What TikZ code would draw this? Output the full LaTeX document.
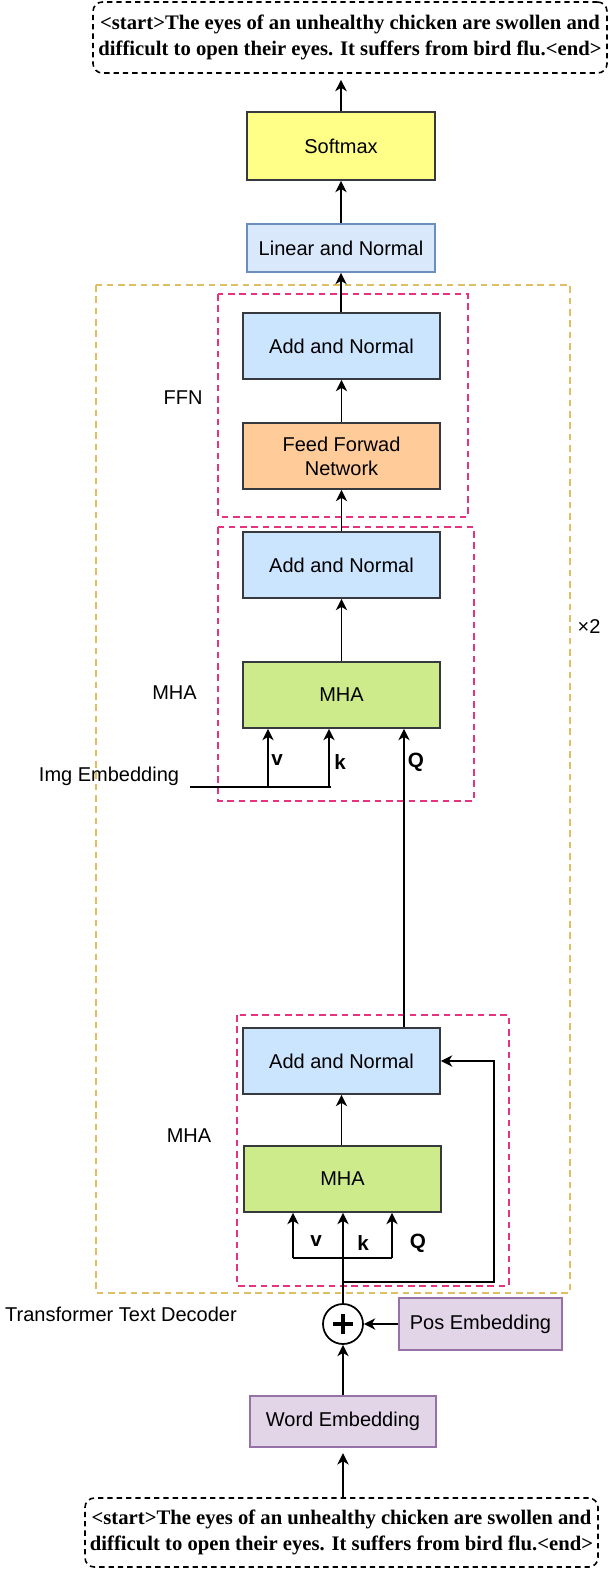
\documentclass[tikz,border=0pt]{standalone}
\usepackage{fontspec}
\setmainfont{Liberation Sans}
\newfontfamily\tnr{Liberation Serif}
\usetikzlibrary{arrows.meta}
\definecolor{sgray}{HTML}{36393D}
\definecolor{yfill}{HTML}{FFFF88}
\definecolor{lnfill}{HTML}{DAE8FC}
\definecolor{lnstroke}{HTML}{6C8EBF}
\definecolor{anfill}{HTML}{CCE5FF}
\definecolor{fffill}{HTML}{FFCC99}
\definecolor{mhafill}{HTML}{CDEB8B}
\definecolor{embfill}{HTML}{E1D5E7}
\definecolor{embstroke}{HTML}{9673A6}
\definecolor{pinkd}{HTML}{E6337F}
\definecolor{yeld}{HTML}{E0BE62}
\begin{document}
\begin{tikzpicture}[x=0.75pt,y=-0.75pt,
  blk/.style={draw=sgray, line width=1.3pt, minimum width=147.75pt, minimum height=49.5pt,
    inner sep=0pt, align=center, font=\fontsize{15}{18}\selectfont},
  txtbox/.style={draw=black, dashed, dash pattern=on 4pt off 3pt, line width=1.2pt, rounded corners=7pt,
    inner sep=0pt, align=center, font=\tnr\bfseries\fontsize{15.5}{19.5}\selectfont},
  arr/.style={-{Stealth[length=8.5pt,width=8.5pt,inset=2.5pt]}, line width=1.3pt},
  ln/.style={line width=1.3pt},
  lbl/.style={font=\fontsize{15}{18}\selectfont, inner sep=0pt},
  blbl/.style={font=\bfseries\fontsize{15.5}{18}\selectfont, inner sep=0pt},
  pinkbox/.style={draw=pinkd, line width=1.2pt, dash pattern=on 5pt off 3.5pt},
  yelbox/.style={draw=yeld, line width=1.2pt, dash pattern=on 5pt off 3.5pt}]
\useasboundingbox (0,0) rectangle (610,1572);

% dashed group frames
\draw[yelbox] (96,285) rectangle (570,1293);
\draw[pinkbox] (218,294) rectangle (468,517);
\draw[pinkbox] (218,527) rectangle (474,801);
\draw[pinkbox] (237,1015) rectangle (509,1286);

% nodes
\node[txtbox, minimum width=385.5pt, minimum height=53.25pt] (out) at (350,37.5)
  {<start>The eyes of an unhealthy chicken are swollen and\\difficult to open their eyes. It suffers from bird flu.<end>};
\node[blk, fill=yfill, minimum width=141pt, minimum height=51pt] (soft) at (341,146) {Softmax};
\node[blk, draw=lnstroke, fill=lnfill, minimum width=141pt, minimum height=36pt] (lin) at (341,248) {Linear and Normal};
\node[blk, fill=anfill] (add1) at (341.5,346) {Add and Normal};
\node[blk, fill=fffill] (ffn) at (341.5,456) {Feed Forwad\\Network};
\node[blk, fill=anfill] (add2) at (341.5,565) {Add and Normal};
\node[blk, fill=mhafill] (mha2) at (341.5,695) {MHA};
\node[blk, fill=anfill] (add3) at (341.5,1061) {Add and Normal};
\node[blk, fill=mhafill] (mha3) at (342.5,1179) {MHA};
\node[circle, draw=black, line width=1.3pt, minimum size=30pt, inner sep=0pt] (plus) at (343,1324) {};
\node[blk, draw=embstroke, fill=embfill, minimum width=122.25pt, minimum height=39pt] (pos) at (480.5,1324) {Pos Embedding};
\node[blk, draw=embstroke, fill=embfill, minimum width=139.5pt, minimum height=38.25pt] (word) at (343,1421.5) {Word Embedding};
\node[txtbox, minimum width=384.75pt, minimum height=51.75pt] (inp) at (341.5,1532.5)
  {<start>The eyes of an unhealthy chicken are swollen and\\difficult to open their eyes. It suffers from bird flu.<end>};

% plus sign
\draw[line width=2.3pt] ([xshift=-7.5pt]plus.center) -- ([xshift=7.5pt]plus.center);
\draw[line width=2.3pt] ([yshift=-7.5pt]plus.center) -- ([yshift=7.5pt]plus.center);

% labels
\node[lbl] (lffn) at (183,398) {FFN};
\node[lbl] (lmha2) at (174.5,693) {MHA};
\node[lbl] (lmha3) at (189,1136) {MHA};
\node[lbl] (limg) at (109,776) {Img Embedding};
\node[lbl] (ldec) at (121,1314) {Transformer Text Decoder};
\node[lbl] (ltimes) at (589,627) {×2};
\node[blbl] (lv2) at (277,760) {v};
\node[blbl] (lk2) at (340,762) {k};
\node[blbl] (lq2) at (416,762) {Q};
\node[blbl] (lv3) at (316,1241) {v};
\node[blbl] (lk3) at (363,1243) {k};
\node[blbl] (lq3) at (418,1243) {Q};

% main flow
\draw[arr, shorten >=4.5pt] (soft.north) -- (soft.north |- out.south);
\draw[arr] (lin.north) -- (lin.north |- soft.south);
\draw[arr] (add1.north -| lin.south) -- (lin.south);
\draw[arr] (ffn.north -| add1.south) -- (add1.south);
\draw[arr] (add2.north -| ffn.south) -- (ffn.south);
\draw[arr] (mha2.north) -- (add2.south);

% Q into upper MHA from lower Add and Normal
\coordinate (qx) at (404,0);
\draw[arr] (add3.north -| qx) -- (mha2.south -| qx);

% image embedding into upper MHA
\coordinate (ie1) at (190,787);
\coordinate (ie2) at (331,787);
\coordinate (vb) at (268,787);
\coordinate (kb) at (329,787);
\draw[ln] (ie1) -- (ie2);
\draw[arr] (vb) -- (vb |- mha2.south);
\draw[arr] (kb) -- (kb |- mha2.south);

% lower block
\draw[arr] (mha3.north -| add3.south) -- (add3.south);
\coordinate (bl) at (293,1258);
\coordinate (br) at (392,1258);
\draw[ln] (bl) -- (br);
\draw[arr] (bl) -- (bl |- mha3.south);
\draw[arr] (br) -- (br |- mha3.south);
\draw[arr] (plus.north) -- (plus.north |- mha3.south);
\coordinate (r1) at (343,1282);
\coordinate (r2) at (494,1282);
\draw[arr] (r1) -- (r2) |- (add3.east);

% embeddings
\draw[arr] (word.north) -- (plus.south);
\draw[arr] (pos.west) -- (plus.east);
\draw[arr, shorten >=4pt] (inp.north -| word.south) -- (word.south);
\end{tikzpicture}
\end{document}
